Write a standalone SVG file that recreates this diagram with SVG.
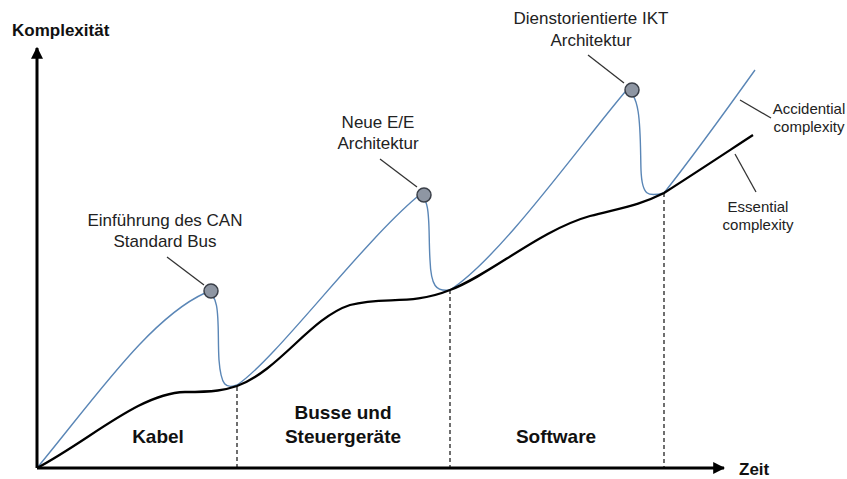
<svg xmlns="http://www.w3.org/2000/svg" width="847" height="479" viewBox="0 0 847 479">
<defs>
<style>
.lbl{font-family:"Liberation Sans",Arial,sans-serif;font-size:17px;fill:#222;text-anchor:middle}
.sm{font-size:15px}
.bold{font-family:"Liberation Sans",Arial,sans-serif;font-weight:bold;fill:#111}
.sec{font-size:19px;text-anchor:middle}
.ax{font-size:17px}
.lead{stroke:#333;stroke-width:1.3;fill:none}
.dash{stroke:#222;stroke-width:1.3;stroke-dasharray:4,3;fill:none}
.dot{fill:#8e96a3;stroke:#3a3f48;stroke-width:1.5}
</style>
<marker id="arr" viewBox="0 0 10 10" refX="9" refY="5" markerWidth="4" markerHeight="4" orient="auto-start-reverse" markerUnits="strokeWidth">
<path d="M0,0 L10,5 L0,10 z" fill="#000"/>
</marker>
</defs>
<rect width="847" height="479" fill="#fff"/>
<g id="connectors">
<path class="dash" d="M237,387 V468"/>
<path class="dash" d="M450,290 V468"/>
<path class="dash" d="M664,193 V468"/>
<path id="accidental" fill="none" stroke="#5a86b6" stroke-width="1.4" d="M37,468 C95,398 150,318 205,293 C222,290 217,330 219,360 C221,386 226,389 237,385 C275,360 360,245 417,197 C432,192 428,230 430,260 C431,286 436,292 450,290 C500,258 580,145 625,92 C642,88 640,140 641,170 C642,196 648,197 664,193 C690,160 730,105 755,70"/>
<path id="essential" fill="none" stroke="#000" stroke-width="2.3" d="M37,468 C90,440 140,393 185,392 C215,392 225,390 237,386 C280,370 310,318 350,305 C385,296 410,306 450,290 C490,275 540,230 590,216 C625,207 640,205 664,193 C700,170 730,150 753,135"/>
<path class="lead" d="M167,257 L204,285"/>
<path class="lead" d="M380,159 L417,187"/>
<path class="lead" d="M588,55 L624,83"/>
<path class="lead" d="M740,100 L771,118"/>
<path class="lead" d="M735,154 L756,192"/>
<path d="M37,468 V48" stroke="#000" stroke-width="3" marker-end="url(#arr)"/>
<path d="M37,468 H724" stroke="#000" stroke-width="3" marker-end="url(#arr)"/>
</g>
<g id="axis-labels">
<text class="bold ax" x="12" y="36">Komplexität</text>
<text class="bold ax" x="739" y="475">Zeit</text>
</g>
<g id="milestone-can">
<circle class="dot" cx="211" cy="291" r="7"/>
<text class="lbl" x="165" y="226">Einführung des CAN</text>
<text class="lbl" x="165" y="247">Standard Bus</text>
</g>
<g id="milestone-ee">
<circle class="dot" cx="424" cy="195" r="7"/>
<text class="lbl" x="378" y="128">Neue E/E</text>
<text class="lbl" x="378" y="149">Architektur</text>
</g>
<g id="milestone-ikt">
<circle class="dot" cx="632" cy="90" r="7"/>
<text class="lbl" x="591" y="24">Dienstorientierte IKT</text>
<text class="lbl" x="591" y="46">Architektur</text>
</g>
<g id="legend-accidental">
<text class="lbl sm" x="809" y="114">Accidential</text>
<text class="lbl sm" x="809" y="132">complexity</text>
</g>
<g id="legend-essential">
<text class="lbl sm" x="758" y="212">Essential</text>
<text class="lbl sm" x="758" y="230">complexity</text>
</g>
<g id="phase-kabel">
<text class="bold sec" x="158" y="443">Kabel</text>
</g>
<g id="phase-busse">
<text class="bold sec" x="343" y="419">Busse und</text>
<text class="bold sec" x="343" y="443">Steuergeräte</text>
</g>
<g id="phase-software">
<text class="bold sec" x="556" y="443">Software</text>
</g>
</svg>
